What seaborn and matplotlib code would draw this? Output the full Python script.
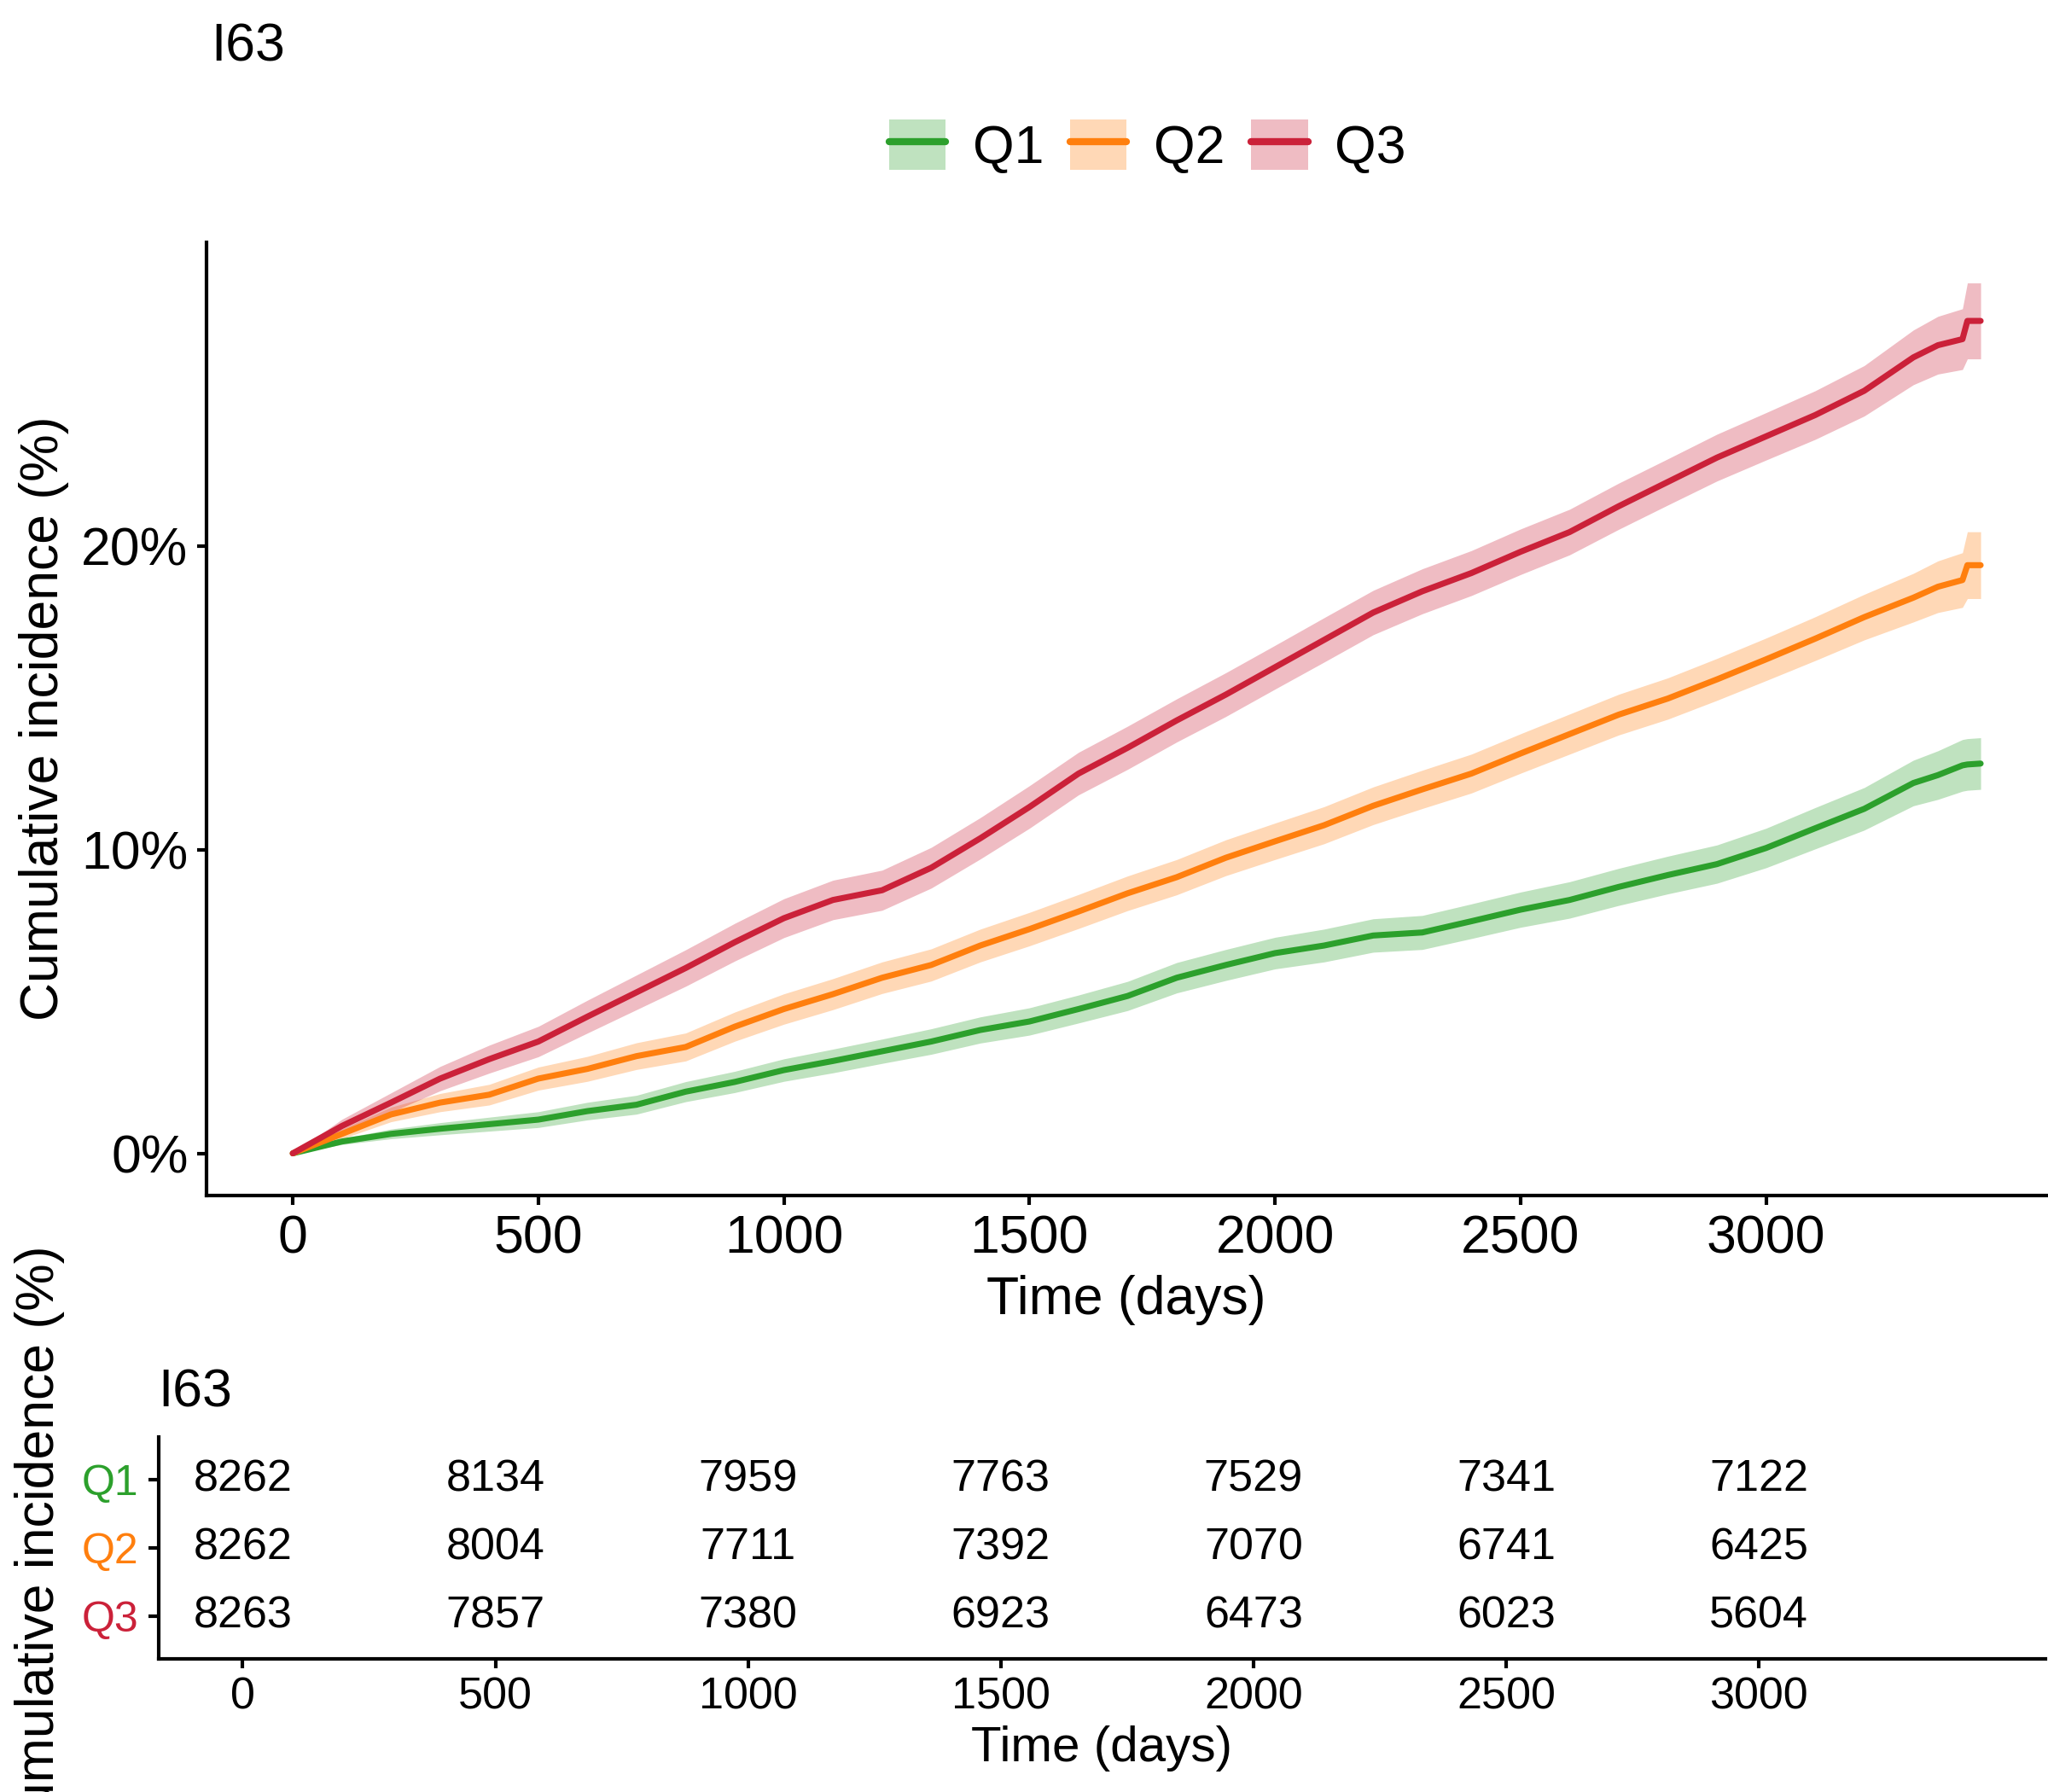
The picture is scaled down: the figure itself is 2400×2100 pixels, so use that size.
import numpy as np
import pandas as pd
import matplotlib
matplotlib.use('Agg')
import matplotlib.pyplot as plt
import seaborn as sns
from matplotlib.patches import Patch
from matplotlib.lines import Line2D
from matplotlib.ticker import PercentFormatter

groups = ['Q1', 'Q2', 'Q3']
colors = ['#2CA02C', '#FF7F0E', '#CB2139']

# time points (days)
days = [0, 100, 200, 300, 400, 500, 600, 700, 800, 900,
        1000, 1100, 1200, 1300, 1400, 1500, 1600, 1700, 1800, 1900,
        2000, 2100, 2200, 2300, 2400, 2500, 2600, 2700, 2800, 2900,
        3000, 3100, 3200, 3300, 3350, 3400, 3410, 3437]

# cumulative incidence (%)
q1 = [0, 0.39, 0.64, 0.81, 0.96, 1.11, 1.39, 1.6, 2.03, 2.35,
      2.74, 3.04, 3.36, 3.68, 4.06, 4.34, 4.75, 5.18, 5.78, 6.2,
      6.59, 6.84, 7.17, 7.27, 7.64, 8.02, 8.34, 8.77, 9.16, 9.52,
      10.05, 10.7, 11.34, 12.19, 12.45, 12.77, 12.8, 12.83]
q2 = [0, 0.64, 1.28, 1.67, 1.93, 2.46, 2.78, 3.2, 3.5, 4.17,
      4.75, 5.24, 5.78, 6.2, 6.84, 7.38, 7.96, 8.56, 9.09, 9.73,
      10.27, 10.8, 11.44, 11.98, 12.5, 13.16, 13.8, 14.44, 14.97, 15.6,
      16.26, 16.94, 17.65, 18.29, 18.65, 18.87, 19.36, 19.36]
q3 = [0, 0.9, 1.67, 2.46, 3.1, 3.68, 4.5, 5.3, 6.1, 6.95,
      7.74, 8.34, 8.66, 9.4, 10.37, 11.4, 12.5, 13.35, 14.25, 15.1,
      16.0, 16.9, 17.8, 18.5, 19.1, 19.8, 20.45, 21.3, 22.1, 22.9,
      23.6, 24.3, 25.1, 26.2, 26.6, 26.8, 27.4, 27.4]

# half width of confidence band (%)
q1_hw = [0, 0.1, 0.16, 0.2, 0.23, 0.26, 0.29, 0.31, 0.33, 0.35,
         0.37, 0.39, 0.4, 0.42, 0.43, 0.45, 0.46, 0.48, 0.5, 0.51,
         0.52, 0.54, 0.55, 0.56, 0.57, 0.58, 0.6, 0.61, 0.62, 0.63,
         0.65, 0.68, 0.7, 0.75, 0.8, 0.85, 0.85, 0.85]
q2_hw = [0, 0.16, 0.24, 0.3, 0.34, 0.38, 0.41, 0.44, 0.46, 0.48,
         0.5, 0.51, 0.52, 0.53, 0.54, 0.55, 0.56, 0.57, 0.58, 0.59,
         0.6, 0.61, 0.62, 0.63, 0.64, 0.65, 0.66, 0.67, 0.68, 0.69,
         0.7, 0.72, 0.75, 0.8, 0.85, 0.9, 1.1, 1.1]
q3_hw = [0, 0.22, 0.32, 0.4, 0.46, 0.5, 0.54, 0.57, 0.6, 0.62,
         0.64, 0.65, 0.66, 0.67, 0.68, 0.7, 0.7, 0.71, 0.71, 0.72,
         0.72, 0.73, 0.73, 0.74, 0.74, 0.75, 0.75, 0.76, 0.76, 0.77,
         0.78, 0.8, 0.83, 0.9, 0.95, 1.0, 1.25, 1.25]

# numbers at risk
risk_times = [0, 500, 1000, 1500, 2000, 2500, 3000]
risk_q1 = [8262, 8134, 7959, 7763, 7529, 7341, 7122]
risk_q2 = [8262, 8004, 7711, 7392, 7070, 6741, 6425]
risk_q3 = [8263, 7857, 7380, 6923, 6473, 6023, 5604]

series = [q1, q2, q3]
halfw = [q1_hw, q2_hw, q3_hw]
risks = [risk_q1, risk_q2, risk_q3]

df = pd.concat([pd.DataFrame({'days': days, 'inc': s, 'hw': h, 'group': g})
                for s, h, g in zip(series, halfw, groups)], ignore_index=True)

sns.set_theme(style='ticks')
plt.rcParams['font.family'] = ['Liberation Sans', 'DejaVu Sans']
plt.rcParams.update({
    'text.color': 'black', 'axes.labelcolor': 'black',
    'axes.edgecolor': 'black', 'xtick.color': 'black', 'ytick.color': 'black',
    'axes.linewidth': 1.0, 'xtick.major.width': 1.0, 'ytick.major.width': 1.0,
})

fig = plt.figure(figsize=(8, 7), dpi=300)
ax = fig.add_axes([0.101, 0.333, 0.898, 0.532])
tab = fig.add_axes([0.0773, 0.0743, 0.9214, 0.124])

# main curves
for g, c in zip(groups, colors):
    d = df[df.group == g]
    ax.fill_between(d.days, d.inc - d.hw, d.inc + d.hw, color=c, alpha=0.3,
                    linewidth=0, zorder=1)
sns.lineplot(data=df, x='days', y='inc', hue='group', palette=colors,
             linewidth=1.7, estimator=None, legend=False, ax=ax, zorder=2)

ax.set_xlim(-175, 3570)
ax.set_ylim(-1.38, 30.0)
ax.set_xticks(range(0, 3001, 500))
ax.set_yticks([0, 10, 20])
ax.yaxis.set_major_formatter(PercentFormatter(xmax=100, decimals=0))
ax.tick_params(labelsize=15, length=2.75, pad=2.5)
ax.set_xlabel('Time (days)', fontsize=15, labelpad=3)
ax.set_ylabel('')
sns.despine(ax=ax)

fig.text(0.0213, 0.599, 'Cumulative incidence (%)', rotation=90,
         ha='center', va='center', fontsize=15)
fig.text(0.103, 0.966, 'I63', fontsize=15, va='baseline')

handles = [(Patch(facecolor=c, alpha=0.3, edgecolor='none'),
            Line2D([], [], color=c, lw=2)) for c in colors]
fig.legend(handles, groups, loc='center', bbox_to_anchor=(0.5603, 0.918),
           ncol=3, frameon=False, fontsize=15, handlelength=1.06,
           handleheight=1.06, handletextpad=0.5, columnspacing=0.5)

# risk table
ypos = [2, 1, 0]
for r, y in zip(risks, ypos):
    for t, n in zip(risk_times, r):
        tab.text(t, y, str(n), ha='center', va='center', fontsize=12.5)
tab.set_xlim(-167, 3567)
tab.set_ylim(-0.63, 2.63)
tab.set_xticks(range(0, 3001, 500))
tab.set_yticks(ypos)
tab.set_yticklabels(groups)
for lab, c in zip(tab.get_yticklabels(), colors):
    lab.set_color(c)
tab.tick_params(axis='x', labelsize=12.5, length=2.75, pad=2.2)
tab.tick_params(axis='y', labelsize=12, length=3, pad=2.5)
tab.set_xlabel('Time (days)', fontsize=14, labelpad=2)
sns.despine(ax=tab)
fig.text(0.0773, 0.215, 'I63', fontsize=15, va='baseline')
fig.text(0.0193, 0.1363, 'Cumulative incidence (%)', rotation=90,
         ha='center', va='center', fontsize=15)

fig.savefig('out.png', dpi=300)
